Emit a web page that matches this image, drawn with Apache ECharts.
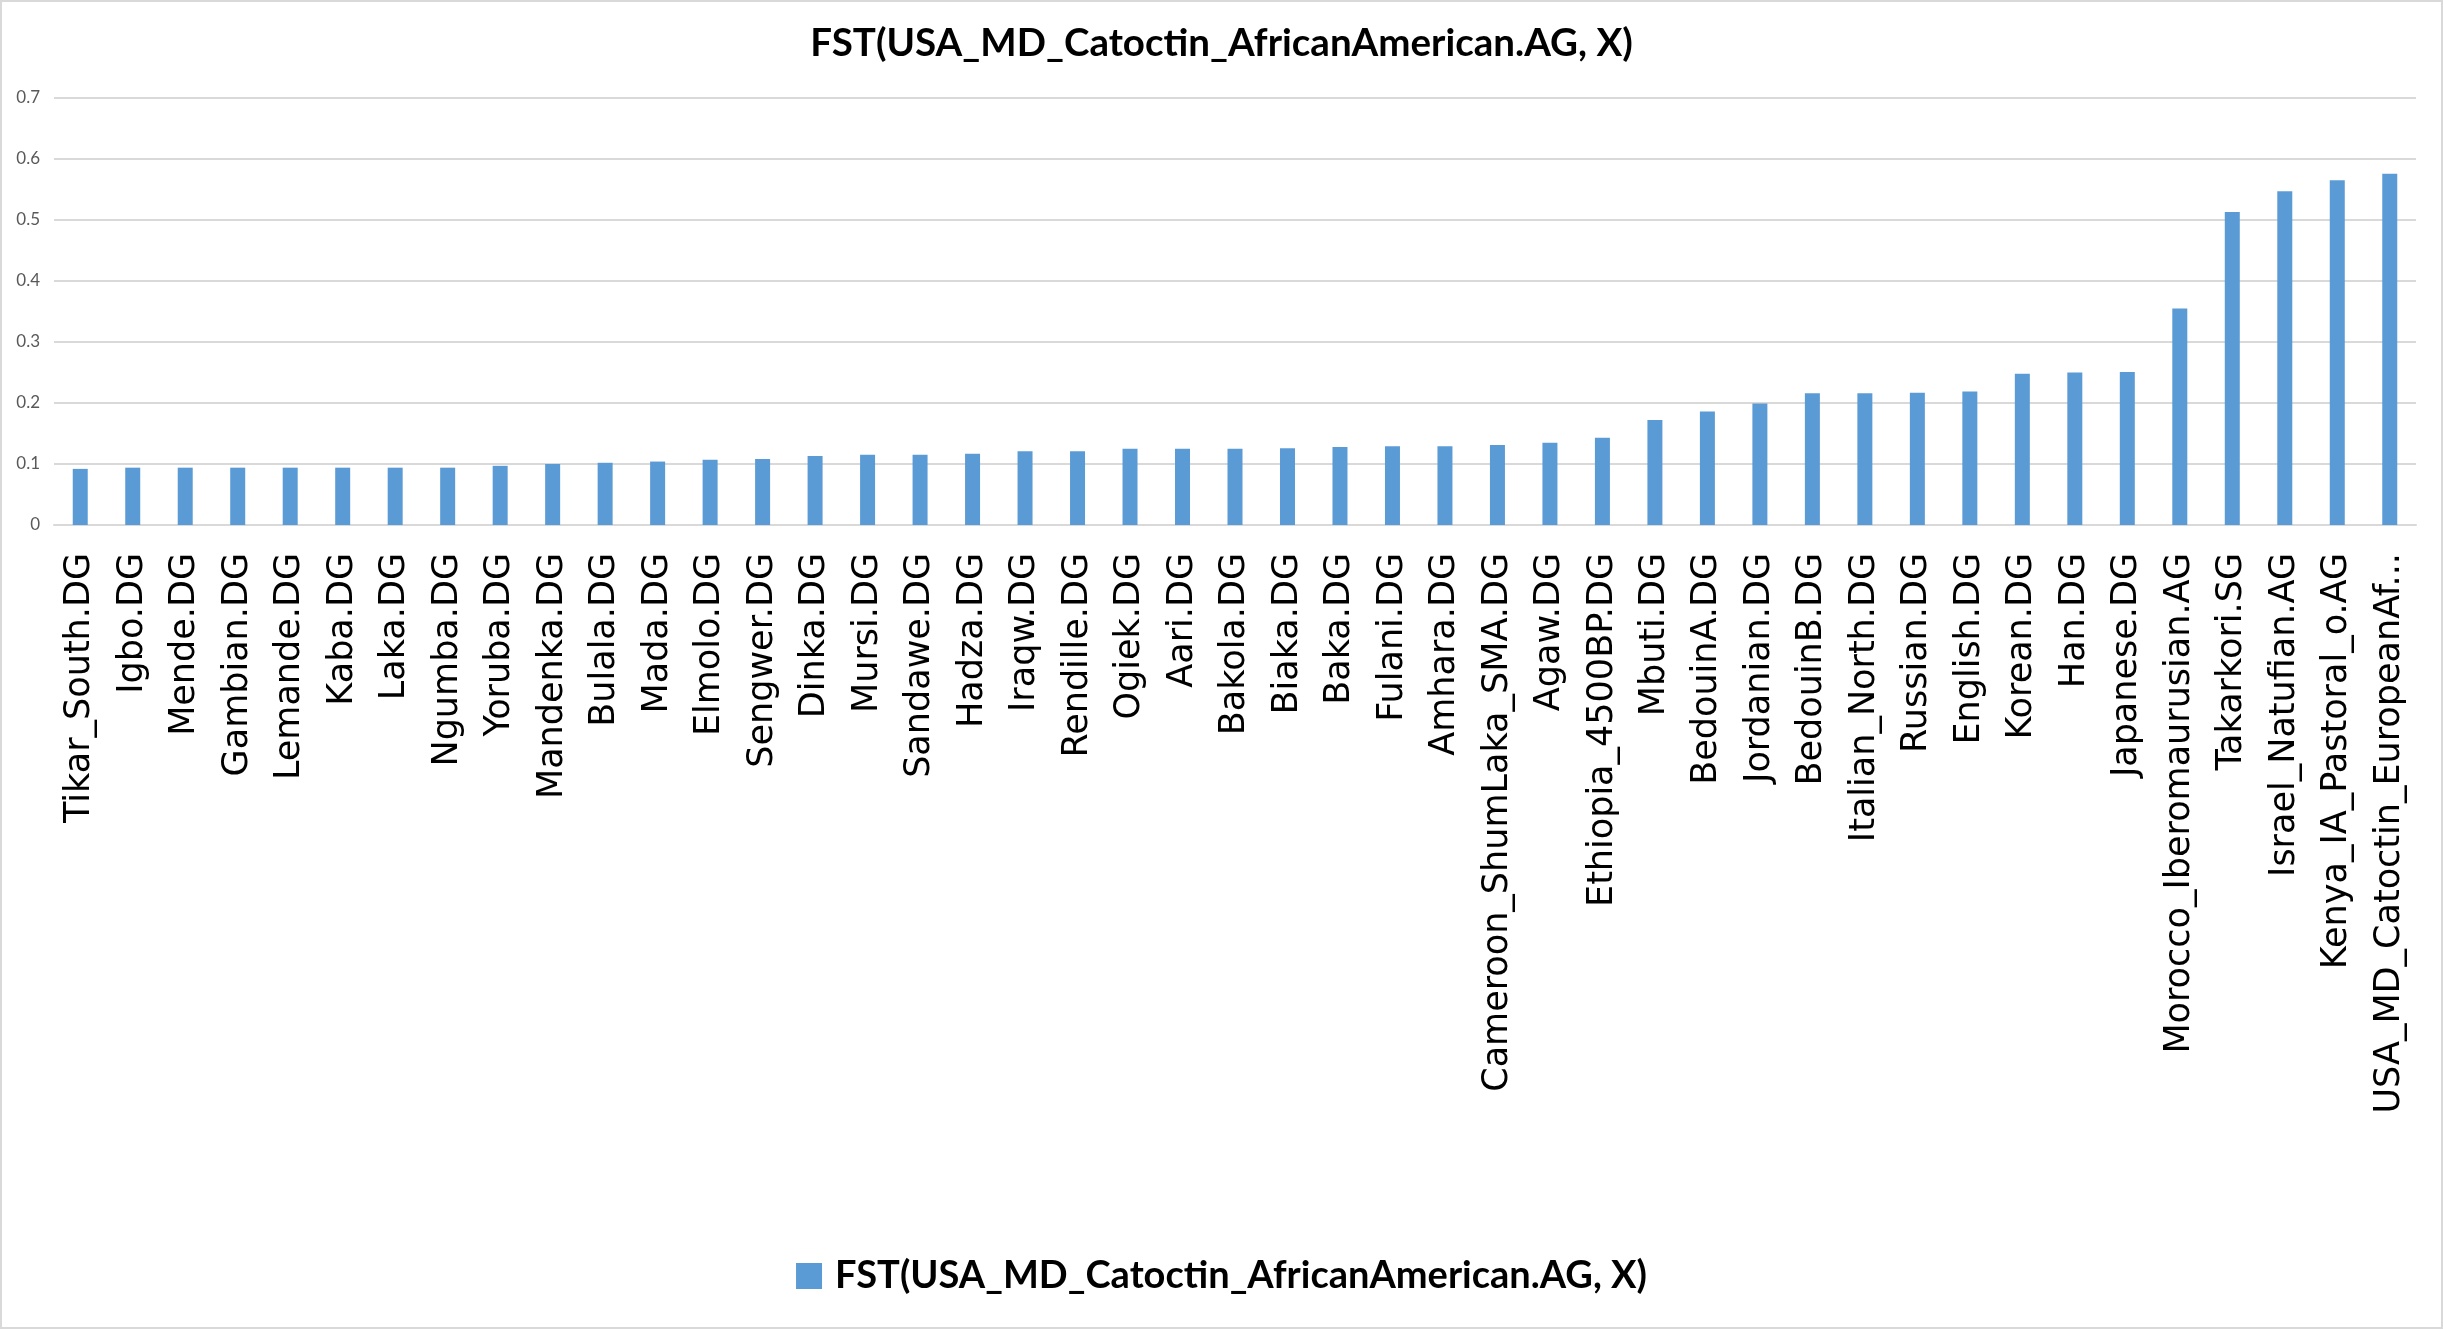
<!DOCTYPE html>
<html>
<head>
<meta charset="utf-8">
<script src="https://cdn.jsdelivr.net/npm/echarts@6/dist/echarts.min.js"></script>
<style>
html,body{margin:0;padding:0;background:#fff;}
#c{position:absolute;left:0;top:0;width:2443px;height:1329px;box-sizing:border-box;border:2px solid #d9d9d9;}
</style>
</head>
<body>
<div id="c"></div>
<script>
const chartTitle = "FST(USA_MD_Catoctin_AfricanAmerican.AG, X)";
const seriesName = "FST(USA_MD_Catoctin_AfricanAmerican.AG, X)";
const categories = [
  "Tikar_South.DG","Igbo.DG","Mende.DG","Gambian.DG","Lemande.DG","Kaba.DG","Laka.DG","Ngumba.DG","Yoruba.DG","Mandenka.DG",
  "Bulala.DG","Mada.DG","Elmolo.DG","Sengwer.DG","Dinka.DG","Mursi.DG","Sandawe.DG","Hadza.DG","Iraqw.DG","Rendille.DG",
  "Ogiek.DG","Aari.DG","Bakola.DG","Biaka.DG","Baka.DG","Fulani.DG","Amhara.DG","Cameroon_ShumLaka_SMA.DG","Agaw.DG","Ethiopia_4500BP.DG",
  "Mbuti.DG","BedouinA.DG","Jordanian.DG","BedouinB.DG","Italian_North.DG","Russian.DG","English.DG","Korean.DG","Han.DG","Japanese.DG",
  "Morocco_Iberomaurusian.AG","Takarkori.SG","Israel_Natufian.AG","Kenya_IA_Pastoral_o.AG","USA_MD_Catoctin_EuropeanAf..."
];
const fstValues = [
  0.092,0.094,0.094,0.094,0.094,0.094,0.094,0.094,0.097,0.100,
  0.102,0.104,0.107,0.108,0.113,0.115,0.115,0.117,0.121,0.121,
  0.125,0.125,0.125,0.126,0.128,0.129,0.129,0.131,0.135,0.143,
  0.172,0.186,0.199,0.216,0.216,0.217,0.219,0.248,0.250,0.251,
  0.355,0.513,0.547,0.565,0.576
];
const yTicks = {min:0, max:0.7, interval:0.1};

const chart = echarts.init(document.getElementById('c'), null, {renderer:'canvas'});
chart.setOption({
  animation:false,
  backgroundColor:'#fff',
  title:{
    text:chartTitle, left:'center', top:17,
    textStyle:{fontFamily:'Lato', fontWeight:'bold', fontSize:38.5, color:'#000'}
  },
  legend:{
    data:[seriesName], bottom:27, left:'center',
    itemWidth:26, itemHeight:26, icon:'rect',
    textStyle:{fontFamily:'Lato', fontWeight:'bold', fontSize:38, color:'#000', padding:[0,0,0,8]}
  },
  grid:{left:52, right:25, top:96, bottom:802, containLabel:false},
  xAxis:{
    type:'category', data:categories,
    axisLine:{lineStyle:{color:'#d9d9d9', width:2}},
    axisTick:{show:false},
    axisLabel:{interval:0, rotate:90, margin:28, fontFamily:'DejaVu Sans', fontSize:35, color:'#000'}
  },
  yAxis:{
    type:'value', min:yTicks.min, max:yTicks.max, interval:yTicks.interval,
    axisLine:{show:false}, axisTick:{show:false},
    splitLine:{lineStyle:{color:'#d9d9d9', width:2}},
    axisLabel:{margin:14, fontFamily:'Lato', fontSize:17, color:'#595959'}
  },
  series:[{
    name:seriesName, type:'bar', data:fstValues, barWidth:15,
    itemStyle:{color:'#5b9bd5'}
  }]
});
</script>
</body>
</html>
